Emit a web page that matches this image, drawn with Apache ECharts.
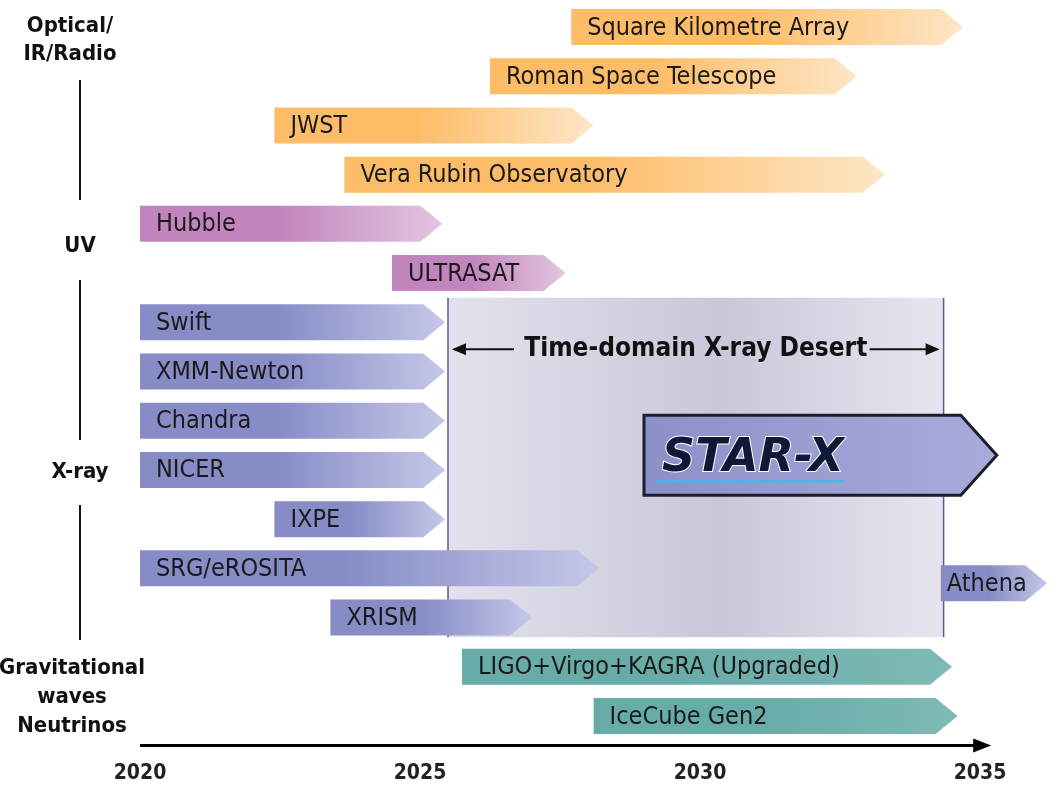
<!DOCTYPE html>
<html><head><meta charset="utf-8">
<script src="https://cdn.jsdelivr.net/npm/echarts@6/dist/echarts.min.js"></script>
<style>html,body{margin:0;padding:0;background:#fff}#c{width:1057px;height:792px}</style>
</head><body><div id="c"></div>
<script>
const missions = ["Square Kilometre Array","Roman Space Telescope","JWST","Vera Rubin Observatory","Hubble","ULTRASAT","Swift","XMM-Newton","Chandra","NICER","IXPE","SRG/eROSITA","XRISM","LIGO+Virgo+KAGRA (Upgraded)","IceCube Gen2"];
const startYear = [2027.7,2026.25,2022.4,2023.65,2020,2024.5,2020,2020,2020,2020,2022.4,2020,2023.4,2025.75,2028.1];
const endYear   = [2034.7,2032.8,2028.1,2033.3,2025.4,2027.6,2025.45,2025.45,2025.45,2025.45,2025.45,2028.2,2027.0,2034.5,2034.6];
const band = ["opt","opt","opt","opt","uv","uv","x","x","x","x","x","x","x","gw","gw"];
const athena = {name:"Athena", start:2034.3, end:2036.2, row:11.3};
const starx = {start:2029.0, end:2035.3, row:8.7};
const desert = {start:2025.5, end:2034.35, rowTop:5.5, rowBottom:12.4};
const tickYears = [2020,2025,2030,2035];

const cols = {opt:["#fdbd68","#fee6c6"], uv:["#c184bd","#e3c6e0"], x:["#878cc6","#c5c8e8"], gw:["#68aca8","#7fbab6"]};
const FONT = "'DejaVu Sans Condensed','DejaVu Sans',sans-serif";

const data = missions.map((m,i)=>[startYear[i], endYear[i], i, m, band[i]]);
data.push([athena.start, athena.end, athena.row, athena.name, "x"]);

function grad(c){return new echarts.graphic.LinearGradient(0,0,1,0,[{offset:0,color:c[0]},{offset:0.45,color:c[0]},{offset:1,color:c[1]}]);}

const chart = echarts.init(document.getElementById('c'));
chart.setOption({
  animation:false,
  grid:{left:140,right:7,top:0,bottom:32},
  xAxis:{type:'value',min:2020,max:2036.25,interval:5,splitLine:{show:false},axisLine:{show:false},axisTick:{show:false},
    axisLabel:{fontFamily:FONT,fontSize:21,fontWeight:'bold',color:'#222',margin:3,formatter:v=>tickYears.includes(v)?String(v):''}},
  yAxis:{type:'value',inverse:true,min:-0.549,max:14.894,show:false},
  series:[
  {type:'custom',z:1,data:[[desert.start,desert.end,desert.rowTop,desert.rowBottom]],
   renderItem:(p,api)=>{
     const a=api.coord([api.value(0),api.value(2)]), b=api.coord([api.value(1),api.value(3)]);
     const ym=api.coord([0,6.55])[1];
     return {type:'group',children:[
       {type:'rect',shape:{x:a[0],y:a[1],width:b[0]-a[0],height:b[1]-a[1]},
        style:{fill:new echarts.graphic.LinearGradient(0,0,1,0,[{offset:0,color:'#e2e1ec'},{offset:0.55,color:'#c9c8da'},{offset:1,color:'#e6e5ef'}])}},
       {type:'line',shape:{x1:a[0],y1:a[1],x2:a[0],y2:b[1]},style:{stroke:'#5b5a96',lineWidth:1.5}},
       {type:'line',shape:{x1:b[0],y1:a[1],x2:b[0],y2:b[1]},style:{stroke:'#5b5a96',lineWidth:1.5}},
       {type:'text',style:{x:(a[0]+b[0])/2,y:ym,text:'Time-domain X-ray Desert',fontFamily:FONT,fontWeight:'bold',fontSize:26,fill:'#111',align:'center',verticalAlign:'middle'}},
       {type:'line',shape:{x1:a[0]+6,y1:ym,x2:a[0]+66,y2:ym},style:{stroke:'#111',lineWidth:2}},
       {type:'polygon',shape:{points:[[a[0]+4,ym],[a[0]+18,ym-6],[a[0]+18,ym+6]]},style:{fill:'#111'}},
       {type:'line',shape:{x1:b[0]-74,y1:ym,x2:b[0]-6,y2:ym},style:{stroke:'#111',lineWidth:2}},
       {type:'polygon',shape:{points:[[b[0]-4,ym],[b[0]-18,ym-6],[b[0]-18,ym+6]]},style:{fill:'#111'}}
     ]};
   }},
  {type:'custom',z:3,data:data,
   renderItem:(p,api)=>{
     const s=api.coord([api.value(0),api.value(2)]), e=api.coord([api.value(1),api.value(2)]);
     const h=36, t=22, y=s[1];
     const c=cols[api.value(4)];
     const pad = api.value(3)==='Athena'?6:16;
     return {type:'group',children:[
       {type:'polygon',shape:{points:[[s[0],y-h/2],[e[0]-t,y-h/2],[e[0],y],[e[0]-t,y+h/2],[s[0],y+h/2]]},style:{fill:grad(c)}},
       {type:'text',style:{x:s[0]+pad,y:y+1,text:api.value(3),fontFamily:FONT,fontSize:25,fill:'#1a1a1a',verticalAlign:'middle'}}
     ]};
   }},
  {type:'custom',z:4,data:[[starx.start,starx.end,starx.row]],
   renderItem:(p,api)=>{
     const s=api.coord([api.value(0),api.value(2)]), e=api.coord([api.value(1),api.value(2)]);
     const h=80,t=36,y=s[1];
     return {type:'group',children:[
       {type:'polygon',shape:{points:[[s[0],y-h/2],[e[0]-t,y-h/2],[e[0],y],[e[0]-t,y+h/2],[s[0],y+h/2]]},
        style:{fill:new echarts.graphic.LinearGradient(0,0,1,0,[{offset:0,color:'#8c90c8'},{offset:1,color:'#a9acda'}]),stroke:'#1c1c2c',lineWidth:3}},
       {type:'line',shape:{x1:s[0]+12,y1:y+26,x2:s[0]+200,y2:y+26},style:{stroke:'#22c8f0',lineWidth:2}},
       {type:'text',style:{x:s[0]+18,y:y+4,text:'STAR-X',fontFamily:"'DejaVu Sans',sans-serif",fontStyle:'italic',fontWeight:'bold',fontSize:46,fill:'#101838',stroke:'#ffffff',lineWidth:2,verticalAlign:'middle'}}
     ]};
   }},
  {type:'custom',z:2,data:[[2020,2035.2,14.6]],
   renderItem:(p,api)=>{
     const s=api.coord([api.value(0),api.value(2)]), e=api.coord([api.value(1),api.value(2)]);
     return {type:'group',children:[
       {type:'line',shape:{x1:s[0],y1:s[1],x2:e[0]-10,y2:e[1]},style:{stroke:'#000',lineWidth:3}},
       {type:'polygon',shape:{points:[[e[0],e[1]],[e[0]-18,e[1]-7],[e[0]-18,e[1]+7]]},style:{fill:'#000'}}
     ]};
   }}
  ],
  graphic:[
    {type:'text',style:{x:70,y:40,text:'Optical/\nIR/Radio',fontFamily:FONT,fontWeight:'bold',fontSize:22,lineHeight:28,fill:'#111',align:'center',verticalAlign:'middle'}},
    {type:'line',shape:{x1:80,y1:80,x2:80,y2:200},style:{stroke:'#111',lineWidth:2}},
    {type:'text',style:{x:80,y:246,text:'UV',fontFamily:FONT,fontWeight:'bold',fontSize:22,fill:'#111',align:'center',verticalAlign:'middle'}},
    {type:'line',shape:{x1:80,y1:280,x2:80,y2:440},style:{stroke:'#111',lineWidth:2}},
    {type:'text',style:{x:80,y:472,text:'X-ray',fontFamily:FONT,fontWeight:'bold',fontSize:22,fill:'#111',align:'center',verticalAlign:'middle'}},
    {type:'line',shape:{x1:80,y1:505,x2:80,y2:640},style:{stroke:'#111',lineWidth:2}},
    {type:'text',style:{x:72,y:697,text:'Gravitational\nwaves\nNeutrinos',fontFamily:FONT,fontWeight:'bold',fontSize:22,lineHeight:29,fill:'#111',align:'center',verticalAlign:'middle'}}
  ]
});
</script></body></html>
